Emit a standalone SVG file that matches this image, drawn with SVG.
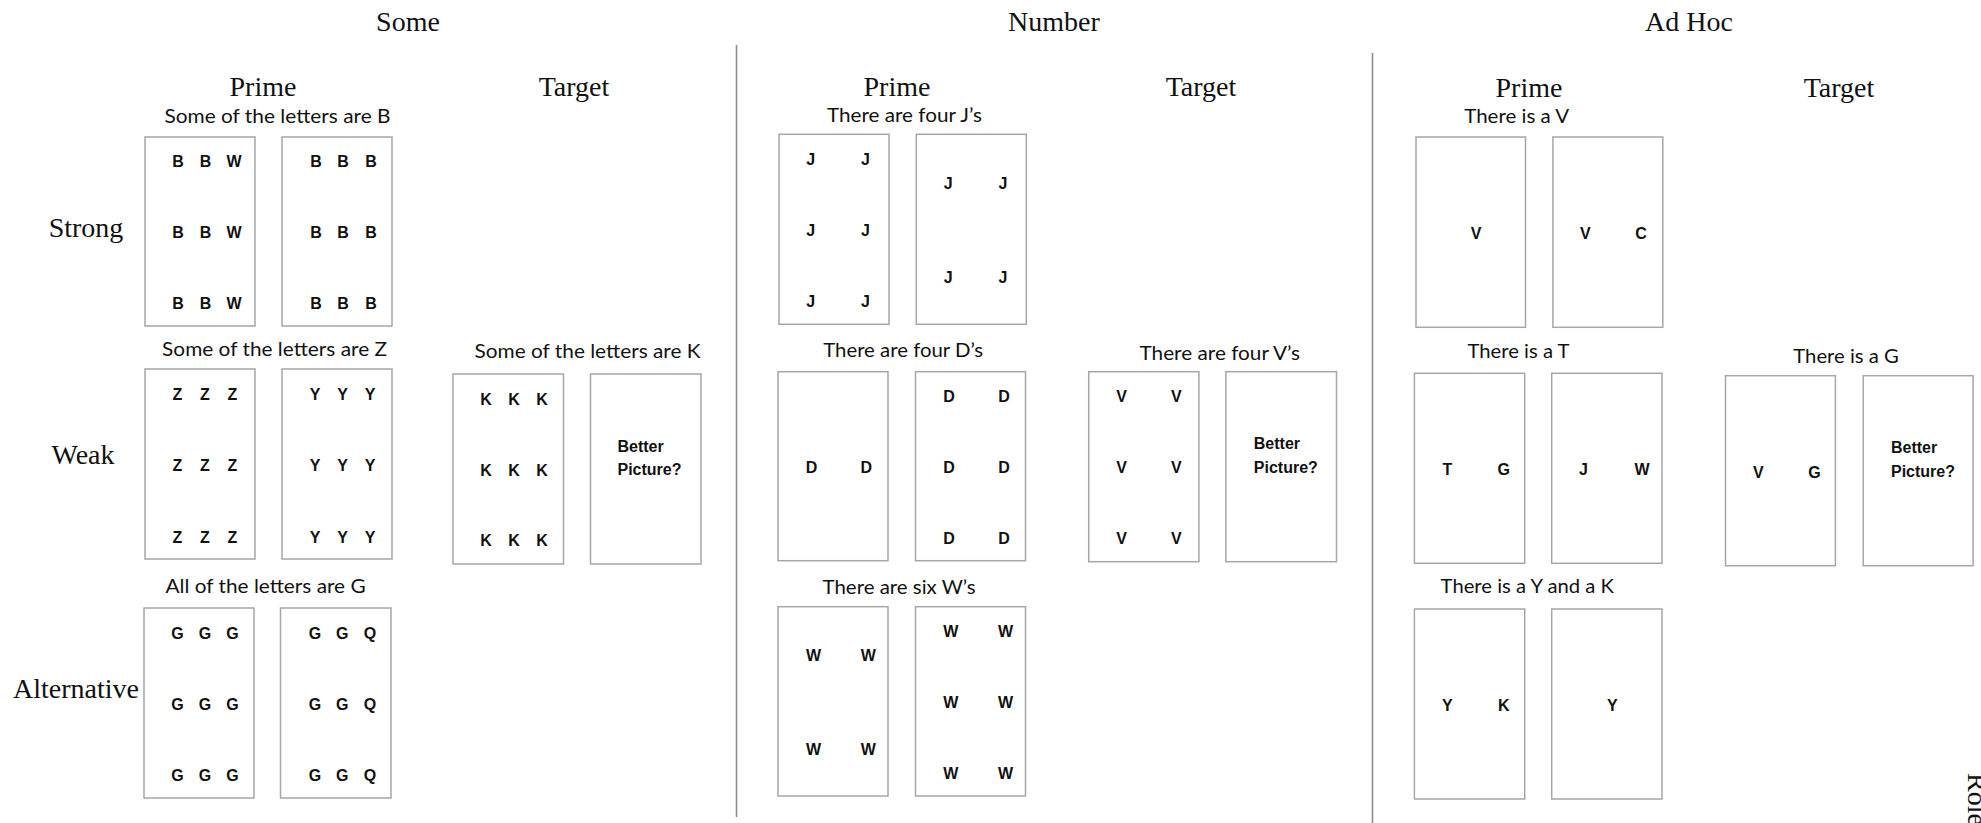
<svg xmlns="http://www.w3.org/2000/svg" width="1981" height="823" viewBox="0 0 1981 823">
  <style>
    .bg { fill: #ffffff; }
    .box { fill: #ffffff; stroke: #a6a6a6; stroke-width: 1.5; }
    .div { stroke: #8c8c8c; stroke-width: 1.6; }
    .hdr { font-family: "Liberation Serif", "Times New Roman", serif; font-size: 28px; fill: #111; text-anchor: middle; }
    .cap { font-family: Lato, "Liberation Sans", sans-serif; font-size: 20px; fill: #111; text-anchor: middle; }
    .ltr { font-family: "Liberation Sans", Arial, sans-serif; font-weight: bold; font-size: 16px; fill: #111; text-anchor: middle; }
    .q { font-family: "Liberation Sans", Arial, sans-serif; font-weight: bold; font-size: 16px; fill: #111; }
  </style>
  <rect class="bg" x="0" y="0" width="1981" height="823"/>

  <!-- column and row headings -->
  <g id="headings">
    <text class="hdr" x="408" y="31">Some</text>
    <text class="hdr" x="1054" y="31">Number</text>
    <text class="hdr" x="1689" y="31">Ad Hoc</text>
    <text class="hdr" x="263" y="96">Prime</text>
    <text class="hdr" x="574" y="96">Target</text>
    <text class="hdr" x="897" y="96">Prime</text>
    <text class="hdr" x="1201" y="96">Target</text>
    <text class="hdr" x="1529" y="97">Prime</text>
    <text class="hdr" x="1839" y="97">Target</text>
    <text class="hdr" x="86" y="237">Strong</text>
    <text class="hdr" x="83" y="464">Weak</text>
    <text class="hdr" x="76" y="698">Alternative</text>
    <text class="hdr" style="text-anchor:start" transform="translate(1968,773) rotate(90)">Role</text>
  </g>

  <!-- section dividers -->
  <g id="connectors">
    <line class="div" x1="736.5" y1="45" x2="736.5" y2="817"/>
    <line class="div" x1="1372.5" y1="53" x2="1372.5" y2="823"/>
  </g>

  <!-- Some: strong prime -->
  <g id="some-strong-prime">
    <text class="cap" x="277.5" y="123" textLength="226" lengthAdjust="spacingAndGlyphs">Some of the letters are B</text>
    <rect class="box" x="145" y="137" width="110" height="189"/>
    <rect class="box" x="282" y="137" width="110" height="189"/>
    <g class="ltr">
      <text x="178" y="167">B</text><text x="205.5" y="167">B</text><text x="234" y="167">W</text>
      <text x="178" y="238">B</text><text x="205.5" y="238">B</text><text x="234" y="238">W</text>
      <text x="178" y="309">B</text><text x="205.5" y="309">B</text><text x="234" y="309">W</text>
      <text x="316" y="167">B</text><text x="343" y="167">B</text><text x="371" y="167">B</text>
      <text x="316" y="238">B</text><text x="343" y="238">B</text><text x="371" y="238">B</text>
      <text x="316" y="309">B</text><text x="343" y="309">B</text><text x="371" y="309">B</text>
    </g>
  </g>

  <!-- Some: weak prime -->
  <g id="some-weak-prime">
    <text class="cap" x="274.6" y="356" textLength="225" lengthAdjust="spacingAndGlyphs">Some of the letters are Z</text>
    <rect class="box" x="145" y="369" width="110" height="190"/>
    <rect class="box" x="282" y="369" width="110" height="190"/>
    <g class="ltr">
      <text x="177.5" y="400">Z</text><text x="205" y="400">Z</text><text x="232.5" y="400">Z</text>
      <text x="177.5" y="471">Z</text><text x="205" y="471">Z</text><text x="232.5" y="471">Z</text>
      <text x="177.5" y="542.5">Z</text><text x="205" y="542.5">Z</text><text x="232.5" y="542.5">Z</text>
      <text x="315" y="400">Y</text><text x="342.5" y="400">Y</text><text x="370" y="400">Y</text>
      <text x="315" y="471">Y</text><text x="342.5" y="471">Y</text><text x="370" y="471">Y</text>
      <text x="315" y="542.5">Y</text><text x="342.5" y="542.5">Y</text><text x="370" y="542.5">Y</text>
    </g>
  </g>

  <!-- Some: target -->
  <g id="some-target">
    <text class="cap" x="587.6" y="358.3" textLength="226" lengthAdjust="spacingAndGlyphs">Some of the letters are K</text>
    <rect class="box" x="453" y="374" width="110.5" height="190"/>
    <rect class="box" x="590.5" y="374" width="110.5" height="190"/>
    <g class="ltr">
      <text x="486" y="404.5">K</text><text x="514" y="404.5">K</text><text x="542" y="404.5">K</text>
      <text x="486" y="475.5">K</text><text x="514" y="475.5">K</text><text x="542" y="475.5">K</text>
      <text x="486" y="546">K</text><text x="514" y="546">K</text><text x="542" y="546">K</text>
    </g>
    <text class="q" x="617.5" y="451.7">Better</text>
    <text class="q" x="617.5" y="475">Picture?</text>
  </g>

  <!-- Some: alternative prime -->
  <g id="some-alternative-prime">
    <text class="cap" x="265.6" y="592.7" textLength="200" lengthAdjust="spacingAndGlyphs">All of the letters are G</text>
    <rect class="box" x="144" y="608" width="110" height="190"/>
    <rect class="box" x="280.5" y="608" width="110.5" height="190"/>
    <g class="ltr">
      <text x="177.6" y="638.5">G</text><text x="205" y="638.5">G</text><text x="232.5" y="638.5">G</text>
      <text x="177.6" y="710">G</text><text x="205" y="710">G</text><text x="232.5" y="710">G</text>
      <text x="177.6" y="781">G</text><text x="205" y="781">G</text><text x="232.5" y="781">G</text>
      <text x="315" y="638.5">G</text><text x="342.3" y="638.5">G</text><text x="370" y="638.5">Q</text>
      <text x="315" y="710">G</text><text x="342.3" y="710">G</text><text x="370" y="710">Q</text>
      <text x="315" y="781">G</text><text x="342.3" y="781">G</text><text x="370" y="781">Q</text>
    </g>
  </g>

  <!-- Number: strong prime -->
  <g id="number-strong-prime">
    <text class="cap" x="904.4" y="122.3" textLength="155" lengthAdjust="spacingAndGlyphs">There are four J’s</text>
    <rect class="box" x="779" y="134.3" width="110" height="190"/>
    <rect class="box" x="916.3" y="134.3" width="110" height="190"/>
    <g class="ltr">
      <text x="810.7" y="165">J</text><text x="865.5" y="165">J</text>
      <text x="810.7" y="236">J</text><text x="865.5" y="236">J</text>
      <text x="810.7" y="307">J</text><text x="865.5" y="307">J</text>
      <text x="948.3" y="188.5">J</text><text x="1003" y="188.5">J</text>
      <text x="948.3" y="283">J</text><text x="1003" y="283">J</text>
    </g>
  </g>

  <!-- Number: weak prime -->
  <g id="number-weak-prime">
    <text class="cap" x="903.2" y="357.3" textLength="160" lengthAdjust="spacingAndGlyphs">There are four D’s</text>
    <rect class="box" x="778" y="371.7" width="110" height="189"/>
    <rect class="box" x="915.5" y="371.7" width="110" height="189"/>
    <g class="ltr">
      <text x="811.5" y="473">D</text><text x="866.4" y="473">D</text>
      <text x="949" y="402">D</text><text x="1004" y="402">D</text>
      <text x="949" y="473">D</text><text x="1004" y="473">D</text>
      <text x="949" y="544">D</text><text x="1004" y="544">D</text>
    </g>
  </g>

  <!-- Number: target -->
  <g id="number-target">
    <text class="cap" x="1219.8" y="360" textLength="160.5" lengthAdjust="spacingAndGlyphs">There are four V’s</text>
    <rect class="box" x="1088.7" y="371.7" width="110.2" height="190"/>
    <rect class="box" x="1225.9" y="371.7" width="110.6" height="190"/>
    <g class="ltr">
      <text x="1121.5" y="402">V</text><text x="1176.4" y="402">V</text>
      <text x="1121.5" y="473">V</text><text x="1176.4" y="473">V</text>
      <text x="1121.5" y="544">V</text><text x="1176.4" y="544">V</text>
    </g>
    <text class="q" x="1253.8" y="449.3">Better</text>
    <text class="q" x="1253.8" y="472.7">Picture?</text>
  </g>

  <!-- Number: alternative prime -->
  <g id="number-alternative-prime">
    <text class="cap" x="899.1" y="594" textLength="153" lengthAdjust="spacingAndGlyphs">There are six W’s</text>
    <rect class="box" x="778" y="606.7" width="110" height="189.3"/>
    <rect class="box" x="915.5" y="606.7" width="110" height="189.3"/>
    <g class="ltr">
      <text x="813.5" y="660.5">W</text><text x="868.4" y="660.5">W</text>
      <text x="813.5" y="755">W</text><text x="868.4" y="755">W</text>
      <text x="950.7" y="636.5">W</text><text x="1005.6" y="636.5">W</text>
      <text x="950.7" y="708">W</text><text x="1005.6" y="708">W</text>
      <text x="950.7" y="778.5">W</text><text x="1005.6" y="778.5">W</text>
    </g>
  </g>

  <!-- Ad Hoc: strong prime -->
  <g id="adhoc-strong-prime">
    <text class="cap" x="1516.7" y="122.7" textLength="105" lengthAdjust="spacingAndGlyphs">There is a V</text>
    <rect class="box" x="1416" y="137" width="109.5" height="190.3"/>
    <rect class="box" x="1552.9" y="137" width="109.9" height="190.3"/>
    <g class="ltr">
      <text x="1476" y="238.5">V</text>
      <text x="1585.4" y="238.5">V</text><text x="1641" y="238.5">C</text>
    </g>
  </g>

  <!-- Ad Hoc: weak prime -->
  <g id="adhoc-weak-prime">
    <text class="cap" x="1518.5" y="357.7" textLength="102" lengthAdjust="spacingAndGlyphs">There is a T</text>
    <rect class="box" x="1414.4" y="373.3" width="110.3" height="190"/>
    <rect class="box" x="1551.7" y="373.3" width="110.3" height="190"/>
    <g class="ltr">
      <text x="1447.3" y="475">T</text><text x="1503.7" y="475">G</text>
      <text x="1583.4" y="475">J</text><text x="1642.1" y="475">W</text>
    </g>
  </g>

  <!-- Ad Hoc: target -->
  <g id="adhoc-target">
    <text class="cap" x="1846.1" y="363.3" textLength="105.6" lengthAdjust="spacingAndGlyphs">There is a G</text>
    <rect class="box" x="1725.5" y="375.7" width="109.9" height="190"/>
    <rect class="box" x="1863.2" y="375.7" width="109.9" height="190"/>
    <g class="ltr">
      <text x="1758.4" y="477.5">V</text><text x="1814.4" y="477.5">G</text>
    </g>
    <text class="q" x="1891" y="452.7">Better</text>
    <text class="q" x="1891" y="476.7">Picture?</text>
  </g>

  <!-- Ad Hoc: alternative prime -->
  <g id="adhoc-alternative-prime">
    <text class="cap" x="1527.3" y="592.7" textLength="173.4" lengthAdjust="spacingAndGlyphs">There is a Y and a K</text>
    <rect class="box" x="1414.4" y="609" width="110.3" height="190"/>
    <rect class="box" x="1551.7" y="609" width="110.3" height="190"/>
    <g class="ltr">
      <text x="1447.3" y="711">Y</text><text x="1503.7" y="711">K</text>
      <text x="1612.4" y="711">Y</text>
    </g>
  </g>
</svg>
